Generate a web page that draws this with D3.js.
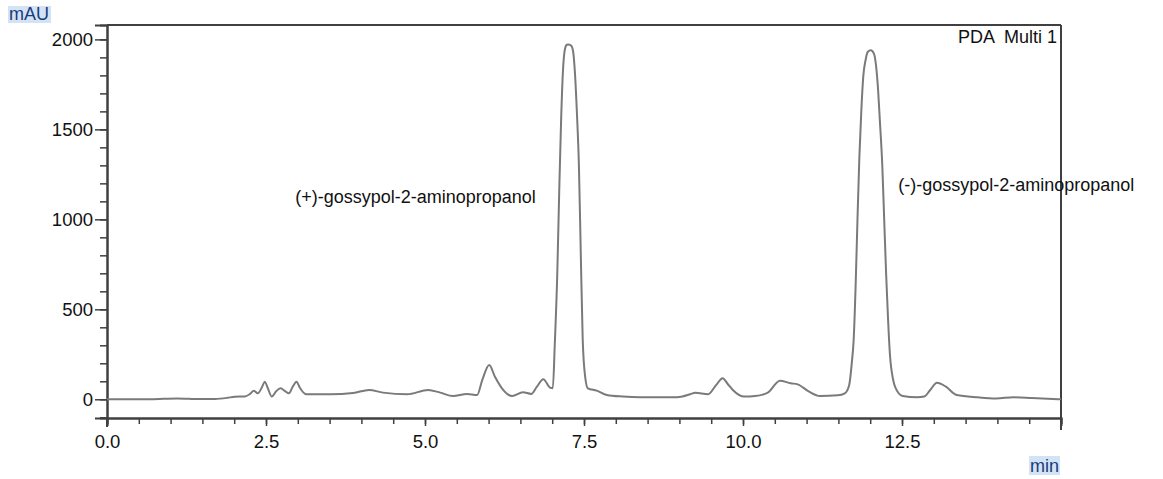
<!DOCTYPE html>
<html>
<head>
<meta charset="utf-8">
<script src="https://cdn.jsdelivr.net/npm/d3@7"></script>
<style>
  body { margin: 0; background: #fff; }
  svg { display: block; font-family: "Liberation Sans", Arial, sans-serif; }
</style>
</head>
<body>
<svg id="chart"></svg>
<script>
// retention time (min) and absorbance (mAU)
const times = [0.00, 0.68, 1.10, 1.46, 1.70, 1.89, 2.01, 2.17, 2.25, 2.31, 2.37, 2.44, 2.48, 2.53, 2.59, 2.66, 2.73, 2.80, 2.86, 2.92, 2.98, 3.03, 3.13, 3.51, 3.87, 4.12, 4.34, 4.72, 5.05, 5.24, 5.44, 5.66, 5.82, 5.90, 6.01, 6.10, 6.21, 6.37, 6.54, 6.67, 6.76, 6.86, 6.97, 7.01,
  7.04, 7.08, 7.11, 7.14, 7.17, 7.20, 7.23, 7.26, 7.30, 7.33, 7.36, 7.39, 7.42, 7.45, 7.48, 7.52, 7.56, 7.70, 7.86, 8.11, 8.38, 8.88, 9.05, 9.17, 9.25, 9.45, 9.58, 9.68, 9.76, 9.84, 10.02, 10.19, 10.39, 10.58, 10.75, 10.86, 11.04, 11.21, 11.49, 11.60, 11.67,
  11.71, 11.74, 11.77, 11.80, 11.83, 11.86, 11.89, 11.93, 11.96, 12.01, 12.06, 12.09, 12.12, 12.15, 12.19, 12.22, 12.25, 12.28, 12.31, 12.36, 12.39, 12.51, 12.74, 12.85, 12.94, 13.05, 13.19, 13.36, 13.69, 13.98, 14.26, 14.54, 15.00];
const mAU = [0, 0, 5, 1, 2, 8, 14, 16, 30, 48, 33, 70, 98, 60, 15, 45, 61, 45, 33, 70, 98, 65, 28, 28, 35, 52, 37, 28, 52, 37, 18, 30, 24, 107, 190, 125, 61, 18, 39, 30, 70, 111, 64, 62,
  300, 700, 1150, 1550, 1830, 1945, 1970, 1972, 1965, 1930, 1800, 1580, 1300, 800, 330, 120, 61, 48, 24, 15, 11, 11, 16, 28, 36, 28, 80, 117, 85, 52, 15, 18, 37, 103, 89, 83, 42, 18, 22, 33, 80,
  200, 330, 620, 1000, 1350, 1600, 1790, 1890, 1930, 1940, 1920, 1860, 1740, 1560, 1300, 1000, 700, 450, 250, 110, 70, 18, 11, 15, 50, 92, 70, 24, 11, 5, 11, 7, 0];

const xMajor = [0, 2.5, 5, 7.5, 10, 12.5];
const xMinor = d3.range(0, 15.01, 0.5);
const yMajor = [0, 500, 1000, 1500, 2000];
const yMinor = d3.range(-100, 2001, 100);

const peakNames = ["(+)-gossypol-2-aminopropanol", "(-)-gossypol-2-aminopropanol"];
const peakTimes = [2.96, 12.44];
const peakLevels = [1090, 1157];

const width = 1163, height = 479;
const svg = d3.select('#chart').attr('width', width).attr('height', height);

const x = d3.scaleLinear().domain([0, 15]).range([107, 1061]);
const y = d3.scaleLinear().domain([-104, 2080]).range([418, 25]);

const axisColor = '#404040';

// frame top / right
svg.append('line').attr('x1', x(0)).attr('x2', x(15)).attr('y1', y(2080)).attr('y2', y(2080))
  .attr('stroke', axisColor).attr('stroke-width', 2);
svg.append('line').attr('x1', x(15)).attr('x2', x(15)).attr('y1', y(2080)).attr('y2', 430)
  .attr('stroke', axisColor).attr('stroke-width', 2);

// y axis
let gY = svg.append('g').attr('transform', `translate(${x(0)},0)`);
gY.call(d3.axisLeft(y).tickValues(yMinor).tickSize(7).tickFormat(''));
let gY2 = svg.append('g').attr('transform', `translate(${x(0)},0)`);
gY2.call(d3.axisLeft(y).tickValues(yMajor).tickSize(12).tickPadding(2).tickFormat(d3.format('d')));

// x axis
let gX = svg.append('g').attr('transform', `translate(0,${y(-104)})`);
gX.call(d3.axisBottom(x).tickValues(xMinor).tickSize(6).tickFormat(''));
let gX2 = svg.append('g').attr('transform', `translate(0,${y(-104)})`);
gX2.call(d3.axisBottom(x).tickValues(xMajor).tickSize(8).tickPadding(9).tickFormat(d3.format('.1f')));

svg.selectAll('.domain').attr('stroke', axisColor).attr('stroke-width', 2);
svg.selectAll('.tick line').attr('stroke', axisColor).attr('stroke-width', 1.5);
svg.selectAll('.tick text').attr('font-size', 18.5).attr('fill', '#111')
  .attr('font-family', '"Liberation Sans", Arial, sans-serif');
// left border reaches below the x axis
svg.append('line').attr('x1', x(0)).attr('x2', x(0)).attr('y1', y(-104)).attr('y2', 427)
  .attr('stroke', axisColor).attr('stroke-width', 2);

// trace
const pts = times.map((t, i) => [t, mAU[i]]);
const line = d3.line().x(d => x(d[0])).y(d => y(d[1])).curve(d3.curveMonotoneX);
svg.append('path').datum(pts).attr('d', line)
  .attr('fill', 'none').attr('stroke', '#7a7a7a').attr('stroke-width', 2);

// peak labels
peakNames.forEach((name, i) => {
  svg.append('text').attr('x', x(peakTimes[i])).attr('y', y(peakLevels[i]))
    .attr('font-size', 18).attr('fill', '#111').text(name);
});

svg.append('text').attr('x', 1057).attr('y', 43).attr('text-anchor', 'end')
  .attr('font-size', 18).attr('fill', '#111').style('white-space', 'pre').text('PDA  Multi 1');

// unit labels with highlight
function unitLabel(txt, lx, ly, w, h) {
  svg.append('rect').attr('x', lx).attr('y', ly).attr('width', w).attr('height', h).attr('fill', '#d3e3f6');
  svg.append('text').attr('x', lx + 1).attr('y', ly + h - 3).attr('font-size', 18)
    .attr('fill', '#1b3b78').text(txt);
}
unitLabel('mAU', 8, 6, 43, 17);
unitLabel('min', 1029, 456, 31, 19);
</script>
</body>
</html>
